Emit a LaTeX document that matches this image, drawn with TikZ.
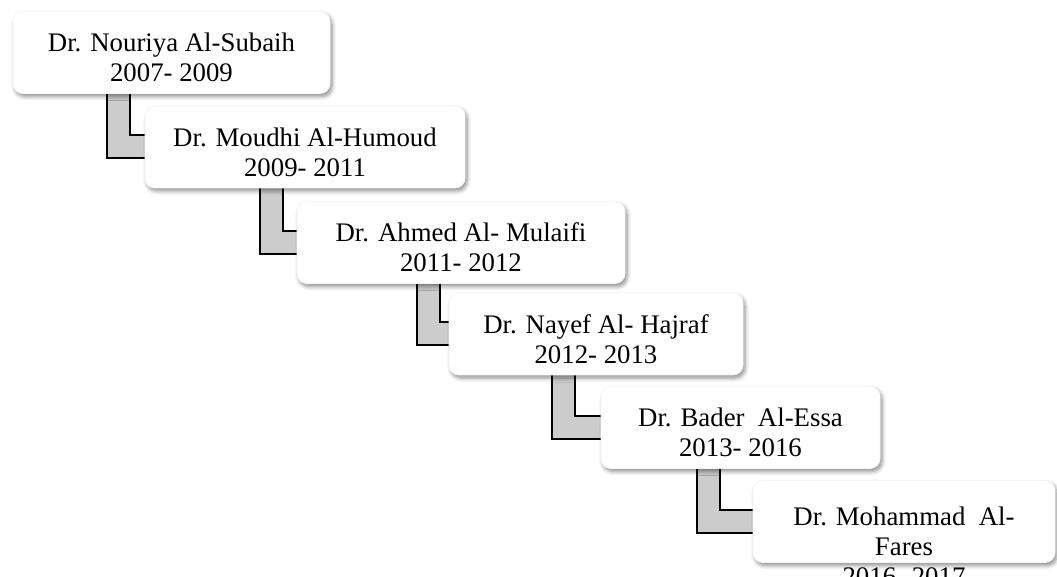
\documentclass[tikz,border=0pt]{standalone}
\usepackage{fontspec}
\setmainfont{Liberation Serif}
\usepackage{tikz}
\usetikzlibrary{shadows.blur, backgrounds, calc}
\definecolor{bargray}{RGB}{204,204,204}

\begin{document}
\begin{tikzpicture}[x=0.5pt, y=-0.5pt,
  card/.style={draw=black!4, fill=white, rounded corners=5pt, inner sep=0pt,
    minimum height=41pt, blur shadow={shadow xshift=1pt, shadow yshift=-1.5pt,
    shadow blur radius=2pt, shadow blur steps=6, shadow opacity=45}},
  deantext/.style={align=center, font=\fontsize{13.4}{15}\selectfont},
  elbow/.style={draw=black, line width=1pt, fill=bargray}]
\path[use as bounding box, clip] (0,0) rectangle (1057,577);

\node[card, minimum width=158.5pt] (b1) at (171.5,52.5) {};
\node[card, minimum width=160pt] (b2) at (305,147) {};
\node[card, minimum width=164pt] (b3) at (461,242.5) {};
\node[card, minimum width=147pt] (b4) at (596,334) {};
\node[card, minimum width=139.5pt] (b5) at (740.5,427.5) {};
\node[card, minimum width=151pt] (b6) at (904,521.5) {};

\node[deantext] (t1) at ([yshift=-2.5pt]b1.center) {Dr. Nouriya Al-Subaih\\2007- 2009};
\node[deantext] (t2) at ([yshift=-2.5pt]b2.center) {Dr. Moudhi Al-Humoud\\2009- 2011};
\node[deantext] (t3) at ([yshift=-2.5pt]b3.center) {Dr. Ahmed Al- Mulaifi\\2011- 2012};
\node[deantext] (t4) at ([yshift=-2.5pt]b4.center) {Dr. Nayef Al- Hajraf\\2012- 2013};
\node[deantext] (t5) at ([yshift=-2.5pt]b5.center) {Dr. Bader\ \ Al-Essa\\2013- 2016};
\node[deantext] (t6) at ([yshift=-12.25pt]b6.center) {Dr. Mohammad\ \ Al-\\Fares\\2016- 2017};

\begin{pgfonlayer}{background}
\foreach \a/\b/\off in {b1/b2/94, b2/b3/115, b3/b4/120, b4/b5/103, b5/b6/96}
  \draw[elbow] ([shift={(\off,-6)}]\a.south west) |- ([shift={(6,11.5)}]\b.west)
    -- ([shift={(6,-11.5)}]\b.west) -| ([shift={(\off+23,-6)}]\a.south west) -- cycle;
\end{pgfonlayer}
\end{tikzpicture}
\end{document}
